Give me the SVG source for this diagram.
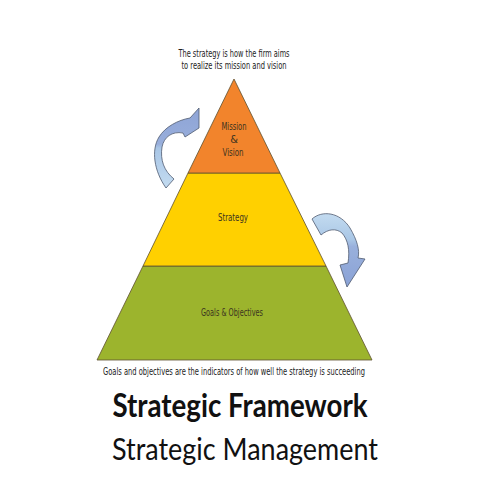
<svg xmlns="http://www.w3.org/2000/svg" width="480" height="480" viewBox="0 0 480 480">
<defs>
<style>
.small{font-family:"Liberation Sans Narrow","DejaVu Sans Condensed","Liberation Sans",sans-serif;font-size:10.5px;fill:#222}
.lbl{font-family:"Liberation Sans Narrow","DejaVu Sans Condensed","Liberation Sans",sans-serif;font-size:11px;fill:#3b3320;text-anchor:middle}
.tier{stroke:#5e5030;stroke-width:0.8}
.arrow{stroke:#4f5a70;stroke-width:0.8}
.big{font-family:Lato,"Open Sans","Liberation Sans",sans-serif;fill:#111}
</style>
<linearGradient id="gl" x1="0" y1="1" x2="0" y2="0">
<stop offset="0" stop-color="#c3dbf0"/>
<stop offset="0.5" stop-color="#a9c6e6"/>
<stop offset="0.55" stop-color="#98aedb"/>
<stop offset="1" stop-color="#8ea4d6"/>
</linearGradient>
<linearGradient id="gr" x1="0" y1="0" x2="0" y2="1">
<stop offset="0" stop-color="#c3dbf0"/>
<stop offset="0.35" stop-color="#aac7e6"/>
<stop offset="0.45" stop-color="#99b0dc"/>
<stop offset="1" stop-color="#8aa2d6"/>
</linearGradient>
</defs>
<rect width="480" height="480" fill="#ffffff"/>

<g id="top-note">
<text class="small" x="234" y="57" text-anchor="middle" textLength="111" lengthAdjust="spacingAndGlyphs">The strategy is how the firm aims</text>
<text class="small" x="234" y="69" text-anchor="middle" textLength="105" lengthAdjust="spacingAndGlyphs">to realize its mission and vision</text>
</g>

<g id="tier-goals">
<polygon class="tier" points="143,266 326,266 372,360 97,360" fill="#9cb42d"/>
<text class="lbl" x="232" y="316" textLength="62" lengthAdjust="spacingAndGlyphs">Goals &amp; Objectives</text>
</g>
<g id="tier-strategy">
<polygon class="tier" points="188,173 280,173 326,266 143,266" fill="#ffd000"/>
<text class="lbl" x="233" y="221" textLength="30" lengthAdjust="spacingAndGlyphs">Strategy</text>
</g>
<g id="tier-mission">
<polygon class="tier" points="234,79 280,173 188,173" fill="#f2842c"/>
<text class="lbl" x="234" y="130" textLength="25" lengthAdjust="spacingAndGlyphs">Mission</text>
<text class="lbl" x="234" y="143">&amp;</text>
<text class="lbl" x="233" y="156" textLength="21" lengthAdjust="spacingAndGlyphs">Vision</text>
</g>

<g id="connectors">
<path class="arrow" fill="url(#gl)" d="M166,188 C154,171 151,150 159,137 C165,127 178,120 190,118 L199,108 L199,128 L185,137 L183,133 C172,131 164,137 162,147 C160,160 164,171 174,179 Z"/>
<path class="arrow" fill="url(#gr)" d="M312,219 C322,210 340,212 350,228 C357,240 360,250 358,258 L365,259 L347,287 L340,265 L348,263 C350,250 348,240 342,233 C336,228 328,229 321,235 Z"/>
</g>

<g id="bottom-note">
<text class="small" x="234" y="375" text-anchor="middle" textLength="262" lengthAdjust="spacingAndGlyphs">Goals and objectives are the indicators of how well the strategy is succeeding</text>
</g>

<g id="titles">
<text class="big" x="240" y="417" font-size="32" font-weight="bold" text-anchor="middle" textLength="255" lengthAdjust="spacingAndGlyphs">Strategic Framework</text>
<text class="big" x="245" y="460" font-size="31" text-anchor="middle" textLength="266" lengthAdjust="spacingAndGlyphs">Strategic Management</text>
</g>
</svg>
